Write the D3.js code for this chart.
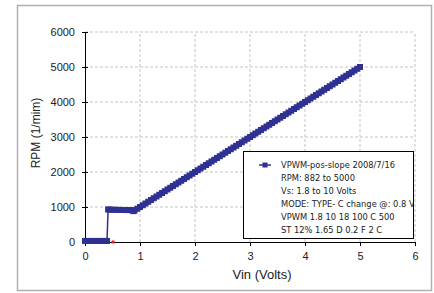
<!DOCTYPE html>
<html>
<head>
<meta charset="utf-8">
<script src="https://cdn.jsdelivr.net/npm/d3@7"></script>
<style>
  body { margin: 0; background: #fff; }
  text { font-family: "Liberation Sans", Arial, sans-serif; }
</style>
</head>
<body>
<div id="chart"></div>
<script>
var width = 434,
    height = 293

// data
var vin = [0, 0.05, 0.1, 0.15, 0.2, 0.25, 0.3, 0.35, 0.4,
  0.42, 0.45, 0.5, 0.55, 0.6, 0.65, 0.7, 0.75, 0.8, 0.85, 0.88,
  0.9, 0.95, 1, 1.05, 1.1, 1.15, 1.2, 1.25, 1.3, 1.35, 1.4, 1.45, 1.5, 1.55, 1.6, 1.65, 1.7, 1.75, 1.8, 1.85, 1.9, 1.95,
  2, 2.05, 2.1, 2.15, 2.2, 2.25, 2.3, 2.35, 2.4, 2.45, 2.5, 2.55, 2.6, 2.65, 2.7, 2.75, 2.8, 2.85, 2.9, 2.95,
  3, 3.05, 3.1, 3.15, 3.2, 3.25, 3.3, 3.35, 3.4, 3.45, 3.5, 3.55, 3.6, 3.65, 3.7, 3.75, 3.8, 3.85, 3.9, 3.95,
  4, 4.05, 4.1, 4.15, 4.2, 4.25, 4.3, 4.35, 4.4, 4.45, 4.5, 4.55, 4.6, 4.65, 4.7, 4.75, 4.8, 4.85, 4.9, 4.95, 5]
var rpm = [30, 30, 30, 30, 30, 30, 30, 30, 30,
  930, 925, 922, 920, 918, 916, 915, 913, 912, 910, 882,
  900, 950, 1000, 1050, 1100, 1150, 1200, 1250, 1300, 1350, 1400, 1450, 1500, 1550, 1600, 1650, 1700, 1750, 1800, 1850, 1900, 1950,
  2000, 2050, 2100, 2150, 2200, 2250, 2300, 2350, 2400, 2450, 2500, 2550, 2600, 2650, 2700, 2750, 2800, 2850, 2900, 2950,
  3000, 3050, 3100, 3150, 3200, 3250, 3300, 3350, 3400, 3450, 3500, 3550, 3600, 3650, 3700, 3750, 3800, 3850, 3900, 3950,
  4000, 4050, 4100, 4150, 4200, 4250, 4300, 4350, 4400, 4450, 4500, 4550, 4600, 4650, 4700, 4750, 4800, 4850, 4900, 4950, 5000]
var redVin = [0.51]
var redRpm = [0]
var xTicks = [0, 1, 2, 3, 4, 5, 6]
var yTicks = [0, 1000, 2000, 3000, 4000, 5000, 6000]
var legendLines = [
  "VPWM-pos-slope 2008/7/16",
  "RPM: 882 to 5000",
  "Vs: 1.8 to 10 Volts",
  "MODE: TYPE- C change @: 0.8 V",
  "VPWM 1.8 10 18 100 C 500",
  "ST 12% 1.65 D 0.2 F 2 C"
]

var blue = "#2e3192"

var svg = d3.select("#chart")
    .append("svg")
    .attr("width", width)
    .attr("height", height)

// outer frame
svg.append("rect").attr("x", 17.5).attr("y", 5.5).attr("width", 414).attr("height", 285)
    .attr("fill", "#fff").attr("stroke", "#b0b0b0").attr("stroke-width", 1.5)

var x = d3.scaleLinear().domain([0, 6]).range([85, 415])
var y = d3.scaleLinear().domain([0, 6000]).range([242, 32])

// dashed grid
svg.append("g").selectAll("line").data(xTicks.slice(1)).join("line")
    .attr("x1", d => x(d)).attr("x2", d => x(d)).attr("y1", y(0)).attr("y2", y(6000))
    .attr("stroke", "#c4c4c4").attr("stroke-dasharray", "3,2")
svg.append("g").selectAll("line").data(yTicks.slice(1)).join("line")
    .attr("x1", x(0)).attr("x2", x(6)).attr("y1", d => y(d)).attr("y2", d => y(d))
    .attr("stroke", "#c4c4c4").attr("stroke-dasharray", "3,2")

// axes
var yAxis = svg.append("g").attr("transform", "translate(" + x(0) + ",0)")
    .call(d3.axisLeft(y).tickValues(yTicks).tickFormat(d3.format("d")).tickSize(3).tickPadding(7).tickSizeOuter(0))
yAxis.selectAll(".tick line").attr("x2", 3).attr("x1", -3)
yAxis.selectAll("text").style("font-size", "11px").attr("fill", "#222")

var xAxis = svg.append("g").attr("transform", "translate(0," + y(0) + ")")
    .call(d3.axisBottom(x).tickValues(xTicks).tickFormat(d3.format("d")).tickSize(4).tickPadding(6).tickSizeOuter(0))
xAxis.selectAll("text").style("font-size", "11px").attr("fill", "#222")
svg.selectAll(".domain").attr("stroke", "#000")

// axis titles
svg.append("text").attr("x", 262).attr("y", 279).attr("text-anchor", "middle")
    .style("font-size", "13px").attr("fill", "#222").text("Vin (Volts)")
svg.append("text").attr("transform", "translate(40,133) rotate(-90)").attr("text-anchor", "middle")
    .style("font-size", "12px").attr("fill", "#222").text("RPM (1/mim)")

// series
var pts = vin.map((v, i) => [v, rpm[i]])
svg.append("path").datum(pts)
    .attr("d", d3.line().x(d => x(d[0])).y(d => y(d[1])))
    .attr("fill", "none").attr("stroke", blue).attr("stroke-width", 1.5)
svg.append("g").selectAll("rect").data(pts).join("rect")
    .attr("x", d => x(d[0]) - 3).attr("y", d => y(d[1]) - 3)
    .attr("width", 6).attr("height", 6).attr("fill", blue)

svg.append("g").selectAll("rect").data(redVin).join("rect")
    .attr("x", (d, i) => x(d) - 1.5).attr("y", (d, i) => y(redRpm[i]) - 1.5)
    .attr("width", 3).attr("height", 3).attr("fill", "#e0202a")

// legend
var lx = 243.5, ly = 151.5, lw = 170, lh = 87
svg.append("clipPath").attr("id", "legclip").append("rect")
    .attr("x", lx).attr("y", ly).attr("width", lw).attr("height", lh)
svg.append("rect").attr("x", lx).attr("y", ly).attr("width", lw).attr("height", lh)
    .attr("fill", "#fff").attr("stroke", "#000").attr("stroke-width", 1)
svg.append("line").attr("x1", 259).attr("x2", 271).attr("y1", 165).attr("y2", 165)
    .attr("stroke", blue).attr("stroke-width", 1.5)
svg.append("rect").attr("x", 262.5).attr("y", 162.5).attr("width", 5).attr("height", 5).attr("fill", blue)
svg.append("g").attr("clip-path", "url(#legclip)")
    .selectAll("text").data(legendLines).join("text")
    .attr("x", 281).attr("y", (d, i) => 168 + i * 13)
    .style("font-family", "'DejaVu Sans', Verdana, sans-serif")
    .style("font-size", "8.3px").attr("fill", "#222")
    .text(d => d)
</script>
</body>
</html>
